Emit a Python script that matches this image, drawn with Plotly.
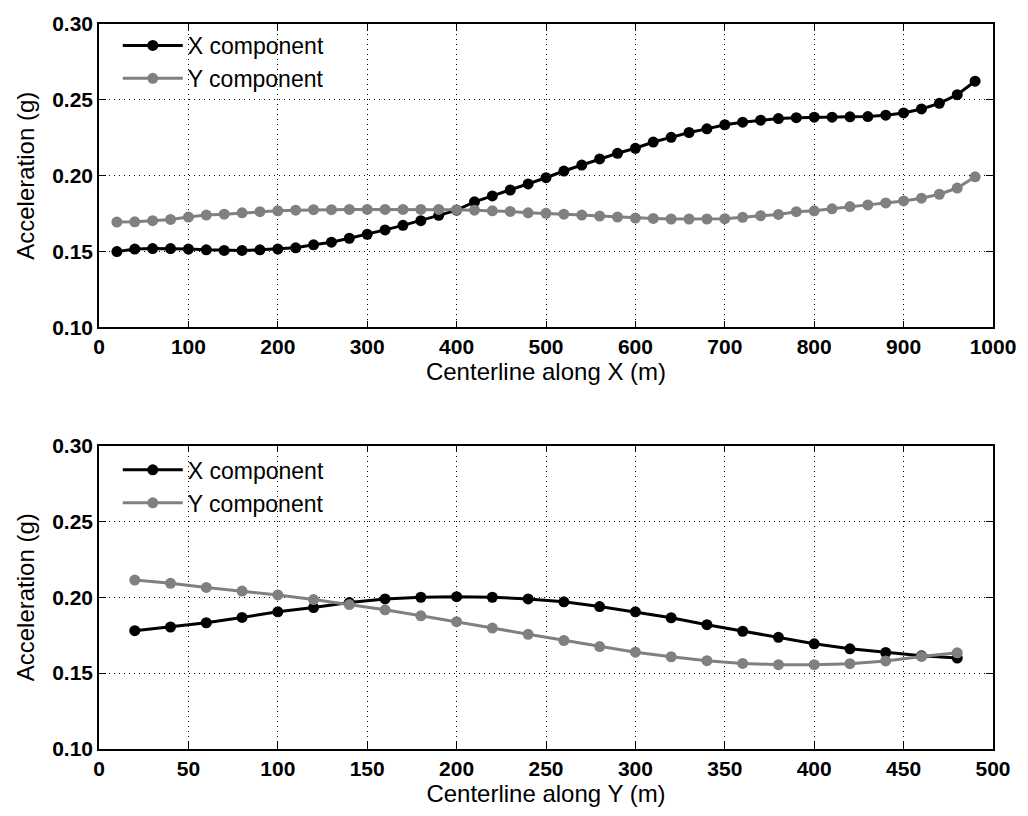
import plotly.graph_objects as go
from plotly.subplots import make_subplots

# Centerline along X: positions (m) and acceleration components (g)
pos_x = list(range(20, 1000, 20))
ax_along_x = [
    0.1500, 0.1517, 0.1520, 0.1520, 0.1517, 0.1512, 0.1508, 0.1508, 0.1512, 0.1517,
    0.1525, 0.1545, 0.1562, 0.1588, 0.1614, 0.1643, 0.1673, 0.1704, 0.1739, 0.1773,
    0.1828, 0.1867, 0.1906, 0.1946, 0.1987, 0.2031, 0.2070, 0.2111, 0.2148, 0.2181,
    0.2222, 0.2253, 0.2285, 0.2309, 0.2336, 0.2353, 0.2366, 0.2377, 0.2383, 0.2386,
    0.2386, 0.2388, 0.2390, 0.2399, 0.2414, 0.2440, 0.2477, 0.2534, 0.2623,
]
ay_along_x = [
    0.1695, 0.1696, 0.1704, 0.1712, 0.1728, 0.1741, 0.1747, 0.1756, 0.1763, 0.1769,
    0.1773, 0.1776, 0.1776, 0.1778, 0.1778, 0.1778, 0.1778, 0.1778, 0.1778, 0.1776,
    0.1773, 0.1769, 0.1765, 0.1756, 0.1752, 0.1747, 0.1741, 0.1734, 0.1728, 0.1721,
    0.1719, 0.1715, 0.1715, 0.1715, 0.1717, 0.1726, 0.1737, 0.1745, 0.1763, 0.1769,
    0.1782, 0.1797, 0.1808, 0.1821, 0.1834, 0.1852, 0.1878, 0.1919, 0.1993,
]

# Centerline along Y: positions (m) and acceleration components (g)
pos_y = list(range(20, 500, 20))
ax_along_y = [
    0.1780, 0.1804, 0.1832, 0.1867, 0.1904, 0.1932, 0.1965, 0.1989, 0.2000, 0.2004,
    0.2000, 0.1989, 0.1970, 0.1939, 0.1904, 0.1865, 0.1819, 0.1776, 0.1736, 0.1693,
    0.1660, 0.1636, 0.1614, 0.1599,
]
ay_along_y = [
    0.2113, 0.2092, 0.2065, 0.2041, 0.2015, 0.1985, 0.1952, 0.1917, 0.1878, 0.1839,
    0.1797, 0.1756, 0.1715, 0.1675, 0.1638, 0.1608, 0.1582, 0.1564, 0.1556, 0.1556,
    0.1562, 0.1580, 0.1610, 0.1634,
]

x_ticks_top = list(range(0, 1001, 100))
x_ticks_bottom = list(range(0, 501, 50))
y_ticks = [0.10, 0.15, 0.20, 0.25, 0.30]

BLACK = "#000000"
GRAY = "#808080"
TICK_FONT = dict(family="Liberation Sans, Arial", size=21, color="black", weight="bold")
TITLE_FONT = dict(family="Liberation Sans, Arial", size=24, color="black")
LEGEND_FONT = dict(family="Liberation Sans, Arial", size=23, color="black")

fig = make_subplots(rows=2, cols=1, vertical_spacing=0.1628)

series = [
    (1, pos_x, ax_along_x, "X component", BLACK, "legend"),
    (1, pos_x, ay_along_x, "Y component", GRAY, "legend"),
    (2, pos_y, ax_along_y, "X component", BLACK, "legend2"),
    (2, pos_y, ay_along_y, "Y component", GRAY, "legend2"),
]
for row, xs, ys, name, color, leg in series:
    fig.add_trace(
        go.Scatter(
            x=xs, y=ys, name=name, mode="lines+markers",
            line=dict(color=color, width=3),
            marker=dict(color=color, size=11, line=dict(width=0)),
            legend=leg,
        ),
        row=row, col=1,
    )

axis_common = dict(
    showline=True, linecolor="black", linewidth=1.5, mirror="ticks",
    ticks="inside", ticklen=7, tickcolor="black", tickwidth=1,
    showgrid=True, gridcolor="black", gridwidth=1, griddash="1px,4px",
    zeroline=False, tickfont=TICK_FONT,
)

fig.update_xaxes(**axis_common)
fig.update_yaxes(**axis_common)

fig.update_xaxes(range=[0, 1000], tickvals=x_ticks_top, row=1, col=1,
                 title=dict(text="Centerline along X (m)", font=TITLE_FONT, standoff=0))
fig.update_xaxes(range=[0, 500], tickvals=x_ticks_bottom, row=2, col=1,
                 title=dict(text="Centerline along Y (m)", font=TITLE_FONT, standoff=0))
for r in (1, 2):
    fig.update_yaxes(range=[0.10, 0.30], tickvals=y_ticks, tickformat=".2f", row=r, col=1,
                     title=dict(text="Acceleration (g)", font=TITLE_FONT, standoff=11))

legend_common = dict(
    bgcolor="rgba(0,0,0,0)", borderwidth=0, font=LEGEND_FONT,
    xanchor="left", yanchor="top", itemwidth=60, tracegroupgap=0,
)
fig.update_layout(
    width=1028, height=816,
    margin=dict(l=99, r=35, t=18, b=67),
    paper_bgcolor="white", plot_bgcolor="white",
    legend=dict(x=0.021, y=1.0, **legend_common),
    legend2=dict(x=0.021, y=0.4186 - 0.004, **legend_common),
)

fig.write_html("out.html")
